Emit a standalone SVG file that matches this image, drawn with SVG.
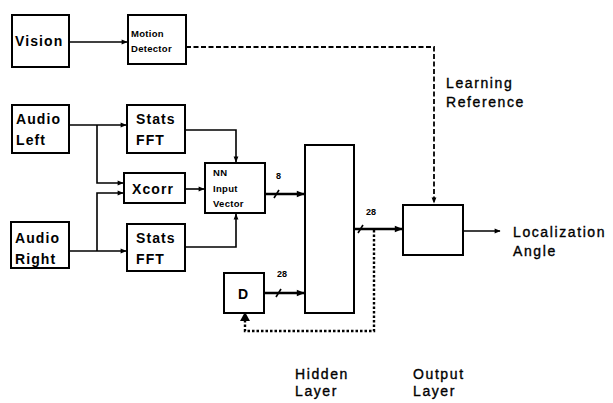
<svg xmlns="http://www.w3.org/2000/svg" width="613" height="403" viewBox="0 0 613 403">
  <style>
    .box { fill: #fff; stroke: #000; stroke-width: 2; }
    .wire { fill: none; stroke: #000; stroke-width: 1.6; }
    .bus { fill: none; stroke: #000; stroke-width: 2.6; }
    .dash { fill: none; stroke: #000; stroke-width: 1.8; stroke-dasharray: 5 2.5; }
    .dot { fill: none; stroke: #000; stroke-width: 2.4; stroke-dasharray: 2.5 2; }
    .t { font-family: "Liberation Sans", Arial, sans-serif; font-weight: bold; fill: #000; }
    .big { font-size: 14px; letter-spacing: 1.1px; }
    .lbl { font-size: 14px; font-weight: normal; letter-spacing: 1.6px; stroke: #000; stroke-width: 0.35; }
    .small { font-size: 9.5px; letter-spacing: 0.3px; }
    .num { font-size: 9px; }
  </style>
  <defs>
    <marker id="ah" viewBox="0 0 10 10" refX="9" refY="5" markerWidth="7" markerHeight="6" orient="auto" markerUnits="userSpaceOnUse">
      <path d="M0,1 L10,5 L0,9 Z" fill="#000"/>
    </marker>
    <marker id="ahb" viewBox="0 0 10 10" refX="9" refY="5" markerWidth="10" markerHeight="8" orient="auto" markerUnits="userSpaceOnUse">
      <path d="M0,1 L10,5 L0,9 Z" fill="#000"/>
    </marker>
  </defs>

  <!-- nodes -->
  <g id="vision">
    <rect class="box" x="12" y="15" width="57" height="52"/>
    <text class="t big" x="15" y="46">Vision</text>
  </g>
  <g id="motion-detector">
    <rect class="box" x="128" y="15" width="58" height="49"/>
    <text class="t small" x="131" y="37">Motion</text>
    <text class="t small" x="131" y="52">Detector</text>
  </g>
  <g id="audio-left">
    <rect class="box" x="12" y="105" width="57" height="48"/>
    <text class="t big" x="16" y="124">Audio</text>
    <text class="t big" x="16" y="145">Left</text>
  </g>
  <g id="stats-fft-left">
    <rect class="box" x="127" y="105" width="58" height="48"/>
    <text class="t big" x="136" y="124">Stats</text>
    <text class="t big" x="136" y="145">FFT</text>
  </g>
  <g id="xcorr">
    <rect class="box" x="124" y="173" width="61" height="30"/>
    <text class="t big" x="132" y="194">Xcorr</text>
  </g>
  <g id="audio-right">
    <rect class="box" x="11" y="222" width="58" height="46"/>
    <text class="t big" x="15" y="243">Audio</text>
    <text class="t big" x="15" y="264">Right</text>
  </g>
  <g id="stats-fft-right">
    <rect class="box" x="127" y="224" width="58" height="47"/>
    <text class="t big" x="136" y="243">Stats</text>
    <text class="t big" x="136" y="264">FFT</text>
  </g>
  <g id="nn-input-vector">
    <rect class="box" x="205" y="163" width="60" height="50"/>
    <text class="t small" x="213" y="176">NN</text>
    <text class="t small" x="213" y="192">Input</text>
    <text class="t small" x="213" y="207">Vector</text>
  </g>
  <g id="delay">
    <rect class="box" x="224" y="273" width="40" height="40"/>
    <text class="t big" x="238" y="299">D</text>
  </g>
  <g id="hidden-layer">
    <rect class="box" x="305" y="145" width="49" height="168"/>
    <text class="t lbl" x="295" y="379">Hidden</text>
    <text class="t lbl" x="295" y="396">Layer</text>
  </g>
  <g id="output-layer">
    <rect class="box" x="403" y="205" width="60" height="50"/>
    <text class="t lbl" x="413" y="379">Output</text>
    <text class="t lbl" x="413" y="396">Layer</text>
  </g>

  <!-- connectors -->
  <g id="connectors">
    <path class="wire" d="M69,42 H127" marker-end="url(#ah)"/>
    <path class="dash" d="M186,47 H434 V203" marker-end="url(#ah)"/>
    <path class="wire" d="M69,125 H126" marker-end="url(#ah)"/>
    <path class="wire" d="M97,125 V183 H123" marker-end="url(#ah)"/>
    <path class="wire" d="M69,251 H126" marker-end="url(#ah)"/>
    <path class="wire" d="M97,251 V193 H123" marker-end="url(#ah)"/>
    <path class="wire" d="M185,130 H236 V162" marker-end="url(#ah)"/>
    <path class="wire" d="M185,247 H236 V214" marker-end="url(#ah)"/>
    <path class="wire" d="M185,189 H204" marker-end="url(#ah)"/>
    <path class="bus" d="M265,194 H304" marker-end="url(#ahb)"/>
    <path class="wire" d="M274,198 L279,190"/>
    <path class="bus" d="M264,293 H304" marker-end="url(#ahb)"/>
    <path class="wire" d="M276,297 L281,289"/>
    <path class="bus" d="M354,229 H402" marker-end="url(#ahb)"/>
    <path class="wire" d="M358,233 L363,225"/>
    <path class="dot" d="M374,230 V331 H245 V315"/>
    <path d="M240,321 L245,312 L250,321 Z" fill="#000"/>
    <path class="wire" d="M463,231 H500" marker-end="url(#ah)"/>
  </g>

  <!-- labels -->
  <text class="t num" x="276" y="179">8</text>
  <text class="t num" x="277" y="277">28</text>
  <text class="t num" x="366" y="215">28</text>
  <text class="t lbl" x="446" y="88">Learning</text>
  <text class="t lbl" x="446" y="107">Reference</text>
  <text class="t lbl" x="513" y="237">Localization</text>
  <text class="t lbl" x="513" y="256">Angle</text>
</svg>
